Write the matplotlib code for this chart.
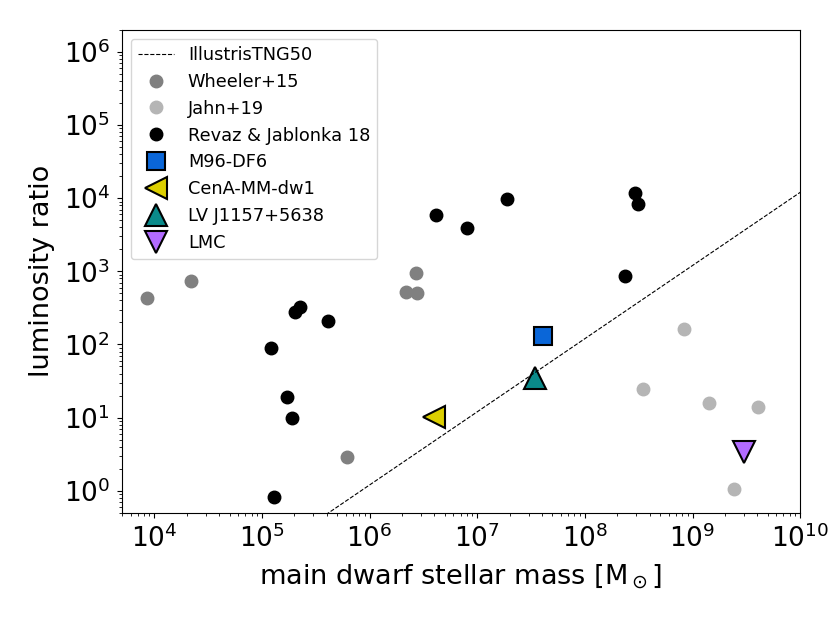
import numpy as np
from matplotlib import pyplot as plt

# Wheeler+15
wheeler_mass = [8.6e3, 2.2e4, 2.7e6, 2.2e6, 2.75e6, 6.2e5]
wheeler_ratio = [430, 740, 940, 520, 500, 2.85]
# Jahn+19
jahn_mass = [8.3e8, 3.45e8, 1.42e9, 4.1e9, 2.45e9]
jahn_ratio = [165, 24.5, 15.7, 13.9, 1.05]
# Revaz & Jablonka 18
revaz_mass = [2.24e5, 2.01e5, 4.1e5, 1.2e5, 1.71e5, 1.9e5, 1.3e5,
              4.18e6, 8.1e6, 1.88e7, 2.94e8, 3.12e8, 2.36e8]
revaz_ratio = [323, 276, 208, 90, 19, 9.75, 0.82,
               5800, 3950, 9600, 11700, 8400, 860]
# single objects
df6_mass, df6_ratio = 4.1e7, 132
cena_mass, cena_ratio = 3.95e6, 10.2
lvj_mass, lvj_ratio = 3.45e7, 35
lmc_mass, lmc_ratio = 3.0e9, 3.35
# IllustrisTNG50 relation
tng_mass = np.array([1e3, 1e11])
tng_ratio = tng_mass * 1.2e-6

fig = plt.figure(figsize=(8.3, 6.23), dpi=100)
ax = fig.add_axes([0.147, 0.177, 0.817, 0.775])

ax.plot(tng_mass, tng_ratio, '--', color='k', lw=0.8, label='IllustrisTNG50', zorder=5)
ax.plot(wheeler_mass, wheeler_ratio, 'o', color='#808080', ms=9, ls='none', label='Wheeler+15')
ax.plot(jahn_mass, jahn_ratio, 'o', color='#b5b5b5', ms=9, ls='none', label='Jahn+19')
ax.plot(revaz_mass, revaz_ratio, 'o', color='k', ms=9, ls='none', label='Revaz & Jablonka 18')
ax.plot(df6_mass, df6_ratio, 's', color='#0a66d8', mec='k', mew=1.5, ms=13, ls='none', label='M96-DF6')
ax.plot(cena_mass, cena_ratio, '<', color='#dccf00', mec='k', mew=1.5, ms=16, ls='none', label='CenA-MM-dw1')
ax.plot(lvj_mass, lvj_ratio, '^', color='#0a8a8a', mec='k', mew=1.5, ms=16, ls='none', label='LV J1157+5638')
ax.plot(lmc_mass, lmc_ratio, 'v', color='#b26bff', mec='k', mew=1.5, ms=16, ls='none', label='LMC')

ax.set_xscale('log')
ax.set_yscale('log')
ax.set_xlim(5e3, 1e10)
ax.set_ylim(0.5, 2e6)
ax.tick_params(labelsize=19, pad=5)
ax.set_xlabel(r'main dwarf stellar mass [M$_\odot$]', fontsize=19.5, labelpad=7)
ax.set_ylabel('luminosity ratio', fontsize=19.5, labelpad=6)
ax.legend(loc='upper left', fontsize=12.8)

plt.savefig('out.png', dpi=100)
